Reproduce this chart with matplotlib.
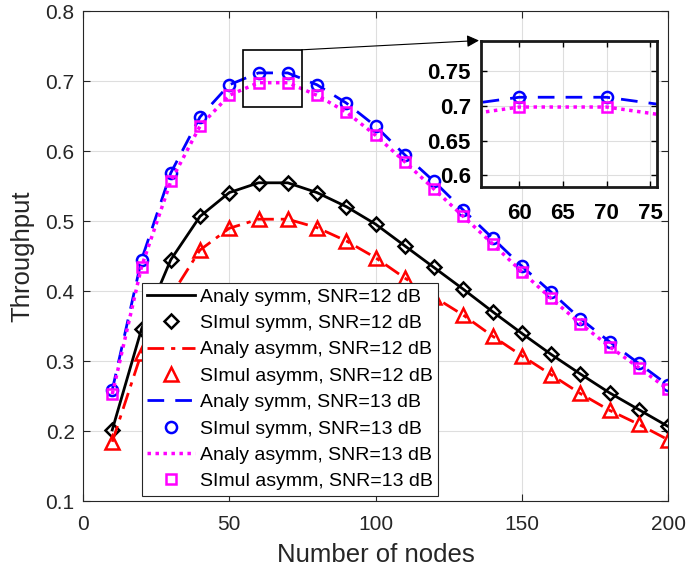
import matplotlib
matplotlib.use("Agg")
import matplotlib.pyplot as plt
from matplotlib.patches import Rectangle
import numpy as np

plt.rcParams['font.family'] = ['Liberation Sans', 'DejaVu Sans']

nodes = [10, 20, 30, 40, 50, 60, 70, 80, 90, 100, 110, 120, 130, 140, 150, 160, 170, 180, 190, 200]
symm_12 = [0.202, 0.346, 0.445, 0.507, 0.541, 0.555, 0.555, 0.541, 0.521, 0.496, 0.465, 0.434,
           0.403, 0.371, 0.340, 0.310, 0.282, 0.255, 0.231, 0.207]
asymm_12 = [0.185, 0.312, 0.393, 0.459, 0.490, 0.503, 0.503, 0.491, 0.472, 0.448, 0.419, 0.392,
            0.366, 0.336, 0.308, 0.281, 0.254, 0.230, 0.210, 0.188]
symm_13 = [0.259, 0.445, 0.569, 0.649, 0.695, 0.712, 0.712, 0.695, 0.669, 0.636, 0.595, 0.557,
           0.516, 0.476, 0.436, 0.399, 0.361, 0.328, 0.297, 0.266]
asymm_13 = [0.253, 0.435, 0.557, 0.636, 0.680, 0.698, 0.698, 0.680, 0.656, 0.623, 0.585, 0.546,
            0.507, 0.468, 0.428, 0.390, 0.354, 0.321, 0.291, 0.260]

labels = ["Analy symm, SNR=12 dB", "SImul symm, SNR=12 dB",
          "Analy asymm, SNR=12 dB", "SImul asymm, SNR=12 dB",
          "Analy symm, SNR=13 dB", "SImul symm, SNR=13 dB",
          "Analy asymm, SNR=13 dB", "SImul asymm, SNR=13 dB"]

MAG = '#ff00ff'
W, H = 688, 573
fig = plt.figure(figsize=(W / 100, H / 100), dpi=100)
ax = fig.add_axes([83 / W, 1 - 501.3 / H, (668 - 83) / W, (501.3 - 11.3) / H])

def draw(a):
    lw = 2.0
    l1, = a.plot(nodes, symm_12, '-', color='k', lw=lw)
    m1, = a.plot(nodes, symm_12, 'D', ls='none', mfc='none', mec='k', mew=1.8, ms=7)
    l2, = a.plot(nodes, asymm_12, '-.', color='r', lw=lw, dashes=(6, 2.5, 1.5, 2.5))
    m2, = a.plot(nodes, asymm_12, '^', ls='none', mfc='none', mec='r', mew=1.8, ms=10)
    l3, = a.plot(nodes, symm_13, '--', color='b', lw=lw, dashes=(6, 4))
    m3, = a.plot(nodes, symm_13, 'o', ls='none', mfc='none', mec='b', mew=1.8, ms=8)
    l4, = a.plot(nodes, asymm_13, ':', color=MAG, lw=2.5, dashes=(1, 1.3))
    m4, = a.plot(nodes, asymm_13, 's', ls='none', mfc='none', mec=MAG, mew=1.8, ms=7)
    return [l1, m1, l2, m2, l3, m3, l4, m4]

handles = draw(ax)
ax.set_xlim(0, 200)
ax.set_ylim(0.1, 0.8)
ax.set_xticks([0, 50, 100, 150, 200])
ax.set_yticks([0.1, 0.2, 0.3, 0.4, 0.5, 0.6, 0.7, 0.8])
ax.set_yticklabels(["0.1", "0.2", "0.3", "0.4", "0.5", "0.6", "0.7", "0.8"])
ax.grid(True, color='#dedede', lw=0.8)
ax.set_axisbelow(True)
ax.tick_params(direction='in', top=True, right=True, labelsize=15, colors='#262626', length=5)
ax.tick_params(axis='x', pad=10)
ax.tick_params(axis='y', pad=6)
for s in ax.spines.values():
    s.set_color('#262626')
    s.set_linewidth(0.8)
ax.set_xlabel("Number of nodes", fontsize=18.5, color='#262626', labelpad=6)
ax.set_ylabel("Throughput", fontsize=18.5, color='#262626', labelpad=8)

# zoom rectangle
ax.add_patch(Rectangle((54.6, 0.663), 20.2, 0.082, fill=False, ec='k', lw=1.2, zorder=5))

leg = fig.legend(handles, labels, loc='upper left',
                 bbox_to_anchor=(141.7 / W, 1 - 282.7 / H), borderaxespad=0,
                 fontsize=14, frameon=True, fancybox=False, framealpha=1,
                 edgecolor='#262626', handlelength=2.45, labelspacing=0.45,
                 handletextpad=0.25, borderpad=0.28)
leg.get_frame().set_linewidth(0.8)

# inset
ins = fig.add_axes([480.7 / W, 1 - 187.3 / H, (657.3 - 480.7) / W, (187.3 - 40.7) / H])
draw(ins)
ins.set_xlim(55.6, 75.8)
ins.set_ylim(0.583, 0.793)
ins.set_xticks([60, 65, 70, 75])
ins.set_yticks([0.6, 0.65, 0.7, 0.75])
ins.set_yticklabels(["0.6", "0.65", "0.7", "0.75"])
ins.grid(True, color='#dedede', lw=0.8)
ins.set_axisbelow(True)
ins.tick_params(direction='in', top=True, right=True, labelsize=16, length=4, width=1)
ins.tick_params(axis='x', pad=11)
ins.tick_params(axis='y', pad=7)
for t in ins.get_xticklabels() + ins.get_yticklabels():
    t.set_fontweight('bold')
for s in ins.spines.values():
    s.set_color('#1a1a1a')
    s.set_linewidth(2)

ax.annotate("", xy=(479 / W, 1 - 40.5 / H), xycoords='figure fraction',
            xytext=(74.8, 0.745), textcoords='data',
            arrowprops=dict(arrowstyle='-|>', color='k', lw=0.8, mutation_scale=18,
                            shrinkA=0, shrinkB=0))

fig.savefig("out.png", dpi=100)
